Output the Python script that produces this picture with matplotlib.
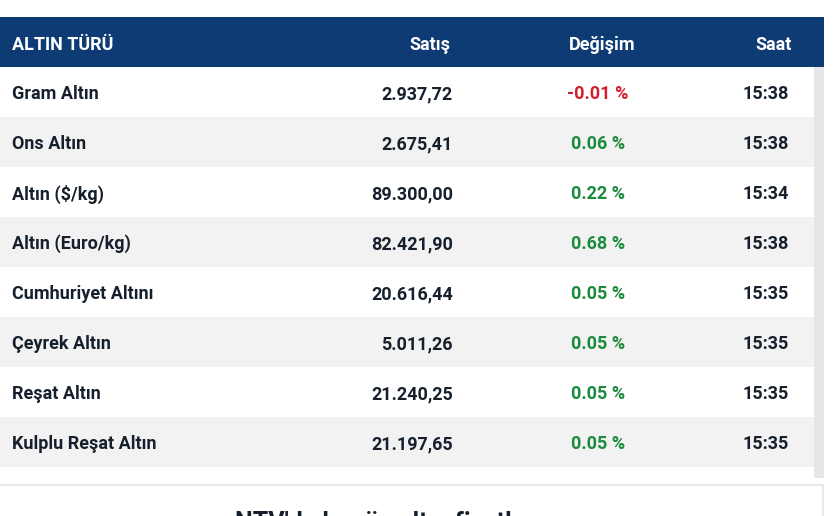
import matplotlib.pyplot as plt
from matplotlib.patches import Rectangle

plt.rcParams["font.family"] = ["Roboto", "DejaVu Sans"]

# table data
headers = ["ALTIN TÜRÜ", "Satış", "Değişim", "Saat"]
names = ["Gram Altın", "Ons Altın", "Altın ($/kg)", "Altın (Euro/kg)",
         "Cumhuriyet Altını", "Çeyrek Altın", "Reşat Altın", "Kulplu Reşat Altın"]
prices = ["2.937,72", "2.675,41", "89.300,00", "82.421,90",
          "20.616,44", "5.011,26", "21.240,25", "21.197,65"]
changes = [-0.01, 0.06, 0.22, 0.68, 0.05, 0.05, 0.05, 0.05]
times = ["15:38", "15:38", "15:34", "15:38", "15:35", "15:35", "15:35", "15:35"]

W, H = 833, 516
fig = plt.figure(figsize=(W / 100, H / 100), dpi=100)
ax = fig.add_axes([0, 0, 1, 1])
ax.set_xlim(0, W)
ax.set_ylim(H, 0)
ax.axis("off")

navy = "#0f3b75"
dark = "#16202c"
red = "#d3202f"
green = "#1a8a3c"

# header band
top = 17
row_h = 50
ax.add_patch(Rectangle((0, top), 824, row_h, color=navy, lw=0))
hy = top + row_h / 2 + 2.5
ax.text(12, hy, headers[0], color="white", fontsize=13, fontweight="bold", ha="left", va="center")
ax.text(450, hy, headers[1], color="white", fontsize=13, fontweight="bold", ha="right", va="center")
ax.text(602, hy, headers[2], color="white", fontsize=13, fontweight="bold", ha="center", va="center")
ax.text(792, hy, headers[3], color="white", fontsize=13, fontweight="bold", ha="right", va="center")

# rows
for i in range(len(names)):
    y0 = top + row_h * (i + 1)
    if i % 2 == 1:
        ax.add_patch(Rectangle((0, y0), 814, row_h, color="#f2f2f2", lw=0))
    cy = y0 + row_h / 2 + 2
    ax.text(12, cy, names[i], color=dark, fontsize=13, fontweight="bold", ha="left", va="center")
    ax.text(453, cy, prices[i], color=dark, fontsize=13, fontweight="bold", ha="right", va="center")
    c = changes[i]
    ax.text(598, cy, f"{c:.2f} %", color=red if c < 0 else green,
            fontsize=13, fontweight="bold", ha="center", va="center")
    ax.text(789, cy, times[i], color=dark, fontsize=13, fontweight="bold", ha="right", va="center")

# scrollbar
ax.add_patch(Rectangle((814, top + row_h), 10, 478 - top - row_h, color="#e6e6e6", lw=0))

# next box below the table, cut off by the edge as in the page
ax.plot([0, 823, 823], [485, 485, H], color="#e4e4e4", lw=1.2)
ax.text(235, 511, "NTV'de bugün altın fiyatları", color=dark, fontsize=18,
        fontweight="bold", ha="left", va="top")

fig.savefig("out.png", dpi=100)
